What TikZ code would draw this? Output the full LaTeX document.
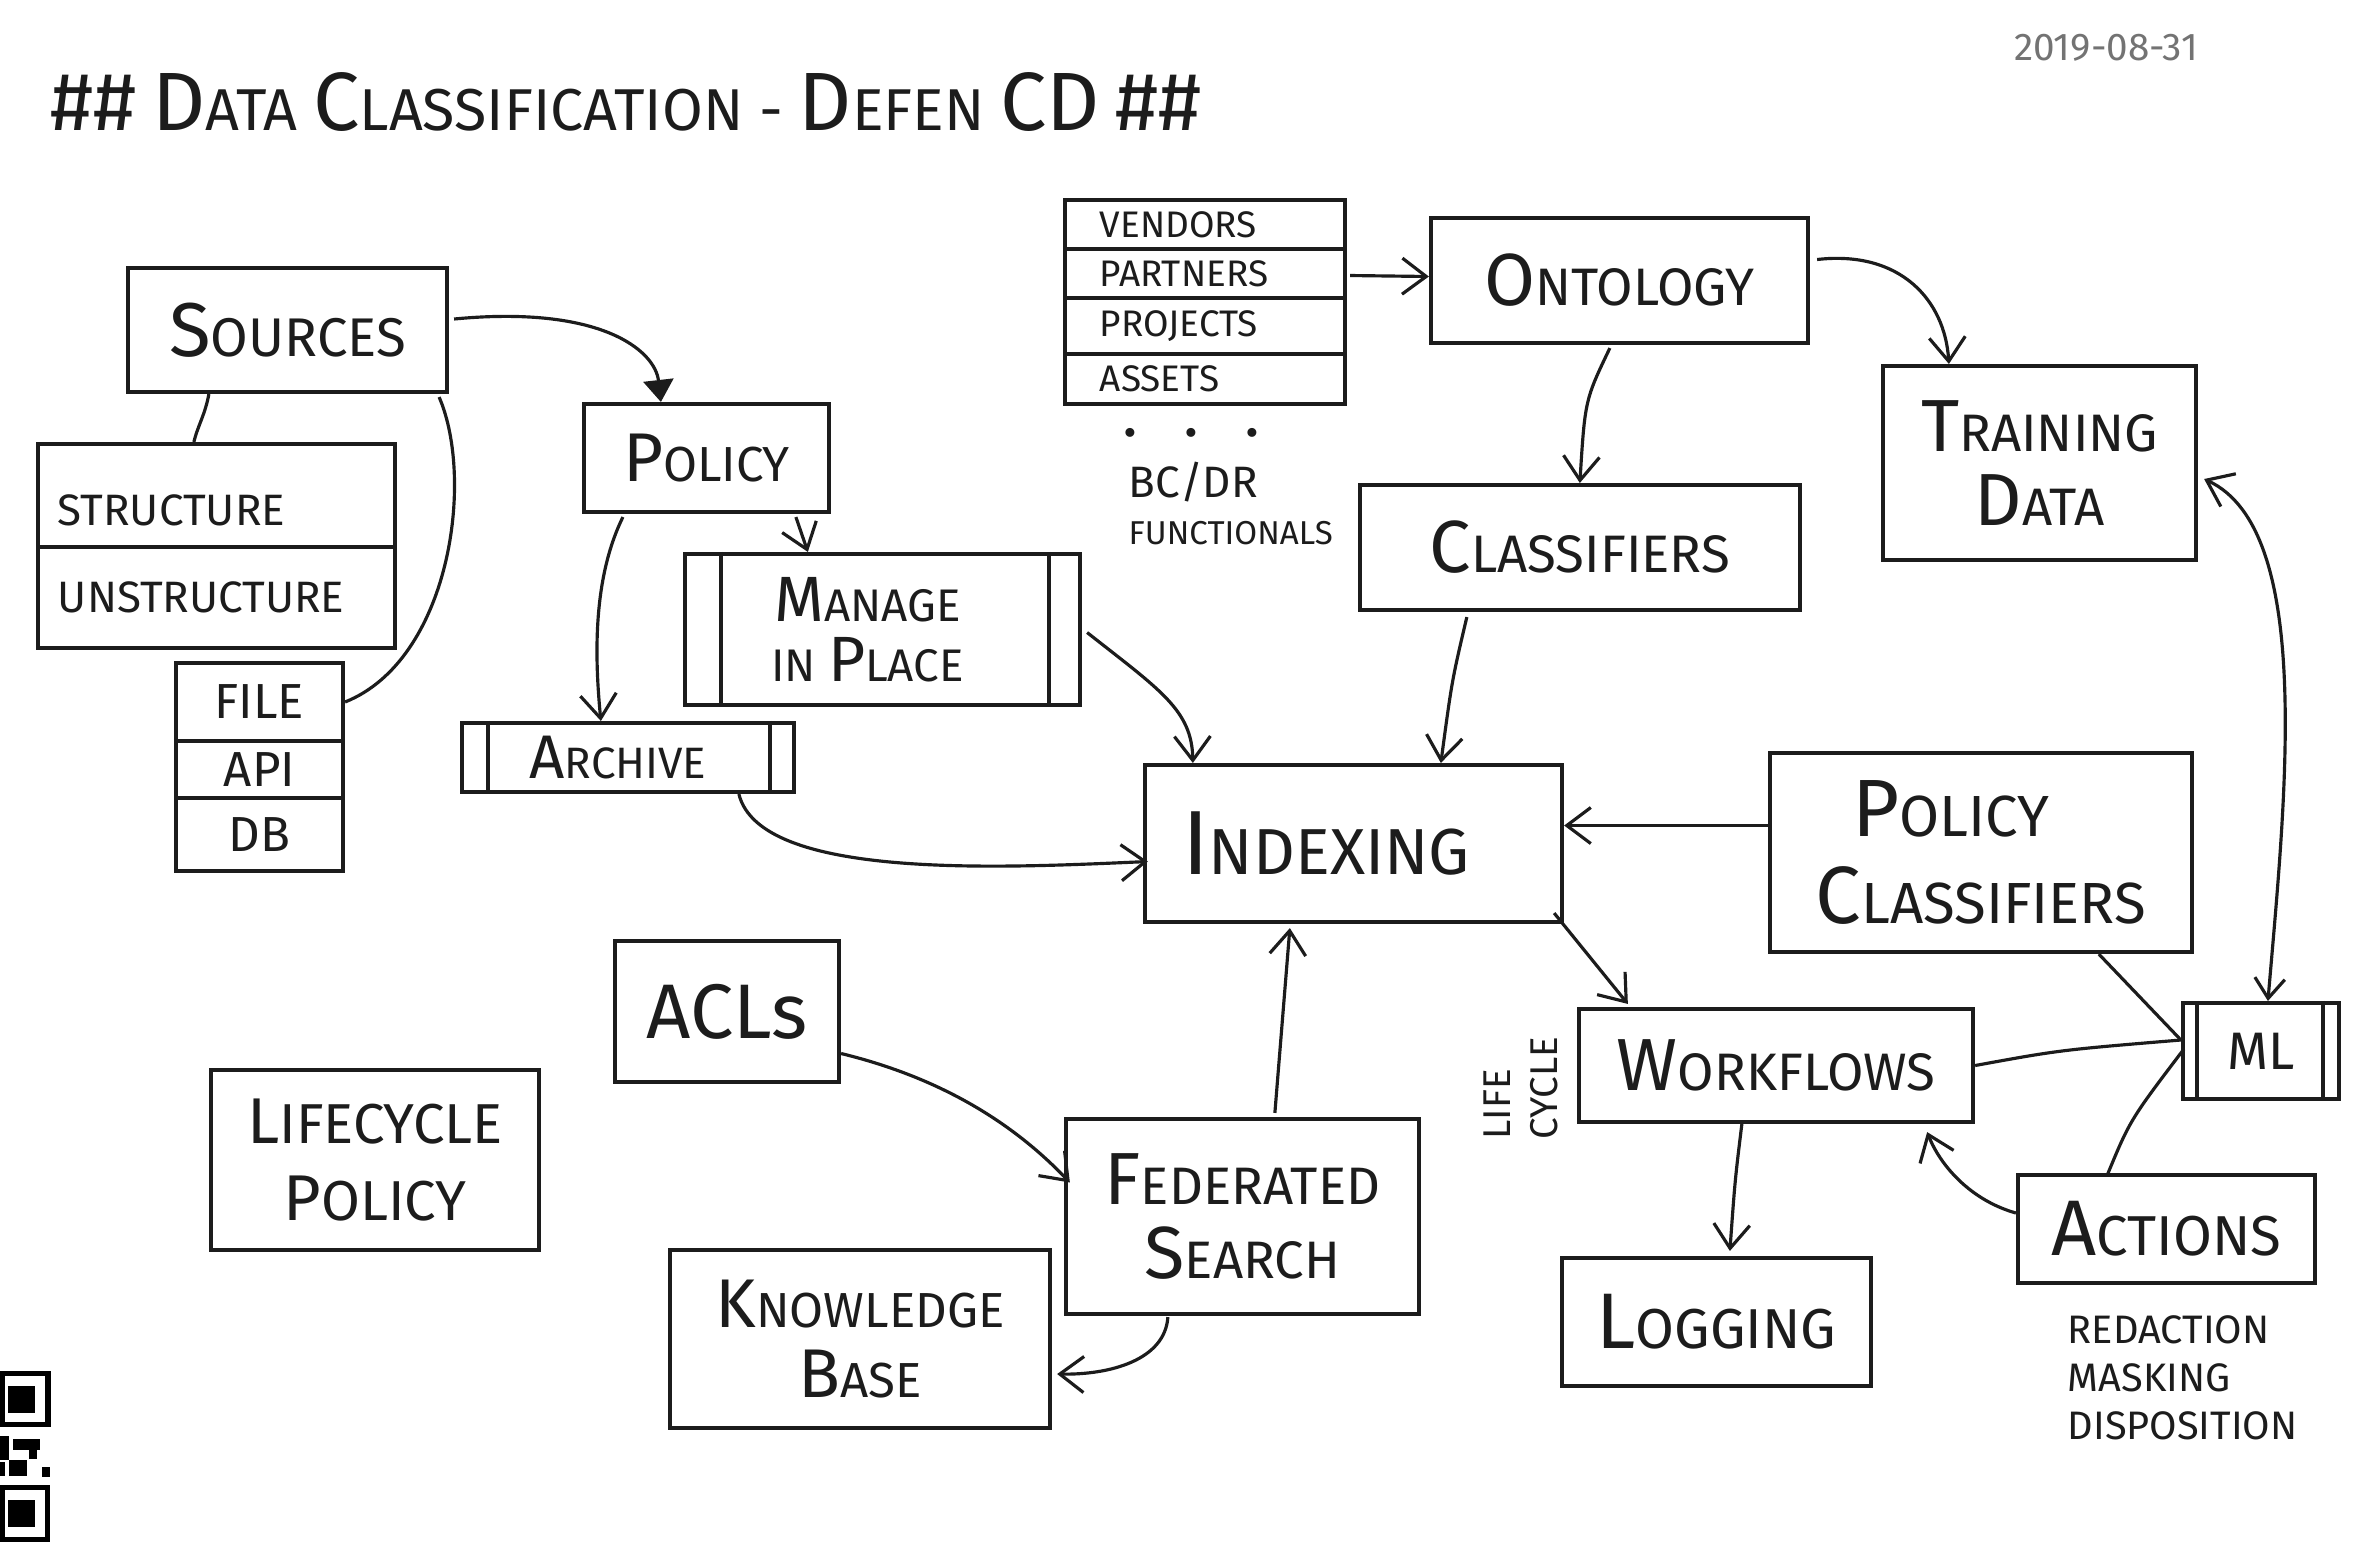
\documentclass[tikz,border=0pt]{standalone}
\usepackage{fontspec}
\usepackage{graphicx}
\setmainfont{Fira Sans}
\usetikzlibrary{arrows.meta,calc}
\newcommand\Ini[1]{\scalebox{1.4}{#1}}
\definecolor{ink}{HTML}{1C1C1C}
\begin{document}
\begin{tikzpicture}[x=0.01cm,y=-0.01cm,
  box/.style={draw=ink, line width=1.15pt, inner sep=0pt, align=center, text=ink},
  lbl/.style={text=ink, inner sep=0pt},
  con/.style={draw=ink, line width=0.9pt},
  arr/.style={draw=ink, line width=0.9pt, -{Straight Barb[length=2.4mm,width=3.6mm]}},
  bar/.style={draw=ink, line width=1.1pt},
]
\fill[white] (0,0) rectangle (2362,1550);
\useasboundingbox (0,0) rectangle (2362,1550);

% title and date
\node[lbl, anchor=west, font=\fontsize{16.8}{20}\selectfont] (title) at (50,102)
  {\Ini{\#\#} \Ini{D}ATA \Ini{C}LASSIFICATION - \Ini{D}EFEN \Ini{CD} \Ini{\#\#}};
\node[lbl, text=black!55, font=\fontsize{11}{13}\selectfont] (date) at (2106,48) {2019-08-31};

% left column
\node[box, minimum width=3.19cm, minimum height=1.24cm, font=\fontsize{15.5}{18}\selectfont] (src) at (287.5,330) {\Ini{S}OURCES};
\node[box, minimum width=3.57cm, minimum height=1.03cm, text width=3.17cm, text height=0.6cm, text depth=0cm, align=left, font=\fontsize{12.5}{14}\selectfont] (st1) at (216.5,495.5) {STRUCTURE};
\node[box, minimum width=3.57cm, minimum height=1.01cm, text width=3.17cm, align=left, font=\fontsize{12.5}{14}\selectfont] (st2) at (216.5,597.5) {UNSTRUCTURE};
\node[box, minimum width=1.67cm, minimum height=0.78cm, font=\fontsize{14}{16}\selectfont] (file) at (259.5,702) {FILE};
\node[box, minimum width=1.67cm, minimum height=0.57cm, font=\fontsize{14}{16}\selectfont] (api) at (259.5,769.5) {API};
\node[box, minimum width=1.67cm, minimum height=0.73cm, font=\fontsize{14}{16}\selectfont] (db) at (259.5,834.5) {DB};

\node[box, minimum width=2.45cm, minimum height=1.08cm, font=\fontsize{14}{17}\selectfont] (pol) at (706.5,458) {\Ini{P}OLICY};
\node[box, minimum width=3.95cm, minimum height=1.51cm, font=\fontsize{13}{17}\selectfont] (mip) at (882.5,629.5) {\Ini{M}ANAGE\hspace*{0.3cm}\\IN \Ini{P}LACE\hspace*{0.3cm}};
\draw[bar] ($(mip.north west)+(38,0)$) -- ($(mip.south west)+(38,0)$);
\draw[bar] ($(mip.north east)+(-33,0)$) -- ($(mip.south east)+(-33,0)$);
\node[box, minimum width=3.32cm, minimum height=0.69cm, font=\fontsize{12.5}{14}\selectfont] (arc) at (628,757.5) {\Ini{A}RCHIVE\hspace*{0.2cm}};
\draw[bar] ($(arc.north west)+(28,0)$) -- ($(arc.south west)+(28,0)$);
\draw[bar] ($(arc.north east)+(-26,0)$) -- ($(arc.south east)+(-26,0)$);

\node[box, minimum width=2.24cm, minimum height=1.41cm, font=\fontsize{22}{26}\selectfont] (acl) at (727,1011.5) {ACLs};
\node[box, minimum width=3.28cm, minimum height=1.80cm, font=\fontsize{16}{22}\selectfont] (lcp) at (375,1160) {\scalebox{1.15}{L}IFECYCLE\\\scalebox{1.15}{P}OLICY};
\node[box, minimum width=3.80cm, minimum height=1.78cm, font=\fontsize{14}{20}\selectfont] (kb) at (860,1339) {\Ini{K}NOWLEDGE\\\Ini{B}ASE};
\node[box, minimum width=3.53cm, minimum height=1.95cm, font=\fontsize{15}{21}\selectfont] (fed) at (1242.5,1216.5) {\Ini{F}EDERATED\\\Ini{S}EARCH};

% top middle table
\node[box, minimum width=2.80cm, minimum height=0.49cm, text width=2.10cm, align=left, font=\fontsize{10.5}{12}\selectfont] (v1) at (1205,224.5) {VENDORS};
\node[box, minimum width=2.80cm, minimum height=0.49cm, text width=2.10cm, align=left, font=\fontsize{10.5}{12}\selectfont] (v2) at (1205,273.5) {PARTNERS};
\node[box, minimum width=2.80cm, minimum height=0.56cm, text width=2.10cm, align=left, font=\fontsize{10.5}{12}\selectfont] (v3) at (1205,326) {PROJECTS};
\node[box, minimum width=2.80cm, minimum height=0.50cm, text width=2.10cm, align=left, font=\fontsize{10.5}{12}\selectfont] (v4) at (1205,379) {ASSETS};
\node[lbl, anchor=base west, font=\fontsize{14}{16}\selectfont\bfseries] (dots) at (1124,436) {.\hspace{1em}.\hspace{1em}.};
\node[lbl, anchor=west, font=\fontsize{12.5}{14}\selectfont] (bcdr) at (1128,482) {BC/DR};
\node[lbl, anchor=west, font=\fontsize{9.4}{11}\selectfont] (func) at (1128,533) {FUNCTIONALS};

\node[box, minimum width=3.77cm, minimum height=1.25cm, font=\fontsize{15}{18}\selectfont] (ont) at (1619.5,280.5) {\Ini{O}NTOLOGY};
\node[box, minimum width=4.40cm, minimum height=1.25cm, font=\fontsize{15}{18}\selectfont] (cls) at (1580,547.5) {\Ini{C}LASSIFIERS};
\node[box, minimum width=3.13cm, minimum height=1.94cm, font=\fontsize{15}{21}\selectfont] (trn) at (2039.5,463) {\Ini{T}RAINING\\\Ini{D}ATA};
\node[box, minimum width=4.17cm, minimum height=1.57cm, font=\fontsize{18.5}{20}\selectfont] (idx) at (1353.5,843.5) {\Ini{I}NDEXING\hspace*{0.55cm}};
\node[box, minimum width=4.22cm, minimum height=1.99cm, font=\fontsize{16.5}{25}\selectfont] (pcl) at (1981,852.5) {\Ini{P}OLICY\hspace*{0.6cm}\\\Ini{C}LASSIFIERS};
\node[box, minimum width=1.56cm, minimum height=0.96cm, font=\fontsize{15}{18}\selectfont] (ml) at (2261,1051) {ML};
\draw[bar] ($(ml.north west)+(16,0)$) -- ($(ml.south west)+(16,0)$);
\draw[bar] ($(ml.north east)+(-18,0)$) -- ($(ml.south east)+(-18,0)$);
\node[box, minimum width=3.94cm, minimum height=1.13cm, font=\fontsize{15}{17}\selectfont] (wf) at (1776,1065.5) {\Ini{W}ORKFLOWS};
\node[lbl, rotate=90, align=left, font=\fontsize{11}{13.5}\selectfont] (lc) at (1521,1088) {LIFE\\CYCLE};
\node[box, minimum width=3.09cm, minimum height=1.28cm, font=\fontsize{16}{19}\selectfont] (log) at (1716.5,1322) {\Ini{L}OGGING};
\node[box, minimum width=2.97cm, minimum height=1.08cm, font=\fontsize{16}{19}\selectfont] (act) at (2166.5,1229) {\Ini{A}CTIONS};
\node[lbl, anchor=west, align=left, font=\fontsize{11.3}{13.7}\selectfont] (acts) at (2067,1378) {REDACTION\\MASKING\\DISPOSITION};

% QR fragment
\fill[black] (0,1371) rectangle (51,1427);
\fill[white] (5,1376) rectangle (45,1422);
\fill[black] (8,1386) rectangle (35,1413);
\fill[black] (0,1436) rectangle (9,1460);
\fill[black] (13,1439) rectangle (40,1450);
\fill[black] (29,1450) rectangle (37,1459);
\fill[black] (9,1460) rectangle (27,1476);
\fill[black] (0,1462) rectangle (5,1476);
\fill[black] (42,1467) rectangle (50,1477);
\fill[black] (0,1485) rectangle (50,1542);
\fill[white] (5,1490) rectangle (45,1537);
\fill[black] (8,1500) rectangle (35,1527);

% connectors
\draw[con] ($(src.south west)+(83,0)$) .. controls (205,415) and (198,425) .. ($(st1.north west)+(158,0)$);
\draw[con] ($(src.south east)+(-10,3)$) .. controls (475,480) and (450,660) .. (file.east);
\draw[draw=ink, line width=0.9pt, -{Triangle[length=2.2mm,width=3mm]}] ($(src.east)+(5,-11)$) .. controls (600,305) and (655,350) .. ($(pol.north west)+(79,0)$);
\draw[arr] ($(pol.south west)+(214,3)$) -- ($(mip.north west)+(125,0)$);
\draw[arr] ($(pol.south west)+(41,3)$) .. controls (592,580) and (595,660) .. ($(arc.north west)+(141,0)$);
\draw[arr] ($(mip.east)+(5,3)$) .. controls (1160,690) and (1192,710) .. ($(idx.north west)+(50,0)$);
\draw[arr] ($(arc.south west)+(279,0)$) .. controls (760,880) and (1000,868) .. ($(idx.west)+(5,18)$);
\draw[arr] ($(cls.south west)+(109,5)$) .. controls (1452,680) .. ($(idx.north west)+(298,0)$);
\draw[arr] ($(pcl.west)+(0,-27)$) -- ($(idx.east)+(0,-18)$);
\draw[arr] ($(idx.south east)+(-10,-11)$) -- ($(wf.north west)+(51,-3)$);
\draw[arr] ($(fed.north west)+(211,-4)$) -- ($(idx.south west)+(147,4)$);
\draw[arr] ($(v2.east)+(3,2)$) -- ($(ont.west)+(0,-4)$);
\draw[arr] ($(ont.south west)+(181,3)$) .. controls (1585,400) .. ($(cls.north west)+(222,0)$);
\draw[arr] ($(ont.east)+(7,-21)$) .. controls (1900,250) and (1945,300) .. ($(trn.north west)+(68,0)$);
\draw[draw=ink, line width=0.9pt, {Straight Barb[length=2mm,width=3mm]}-{Straight Barb[length=2.4mm,width=3.6mm]}] ($(ml.north west)+(87,0)$) .. controls (2285,800) and (2315,530) .. ($(trn.east)+(6,16)$);
\draw[con] ($(pcl.south west)+(331,0)$) -- ($(ml.west)+(0,-11)$);
\draw[con] (wf.east) .. controls (2060,1050) .. ($(ml.west)+(0,-11)$);
\draw[con] ($(act.north west)+(91,3)$) .. controls (2130,1120) .. ($(ml.west)+(3,-2)$);
\draw[arr] ($(wf.south west)+(165,0)$) .. controls (1735,1180) .. ($(log.north west)+(170,-5)$);
\draw[arr] ($(act.west)+(0,-16)$) .. controls (1970,1200) and (1940,1165) .. ($(wf.south east)+(-48,8)$);
\draw[arr] ($(acl.east)+(0,42)$) .. controls (950,1080) and (1020,1130) .. ($(fed.west)+(6,-34)$);
\draw[arr] ($(fed.south west)+(104,1)$) .. controls (1165,1360) and (1110,1375) .. ($(kb.east)+(5,35)$);
\end{tikzpicture}
\end{document}
